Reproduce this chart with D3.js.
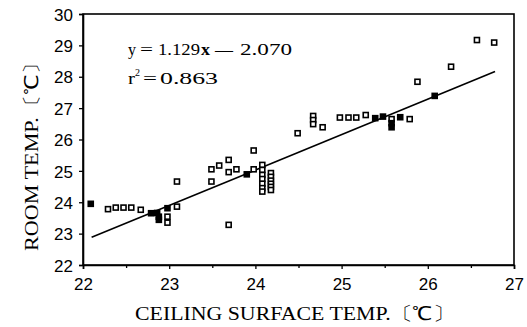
<!DOCTYPE html>
<html>
<head>
<meta charset="utf-8">
<script src="https://cdn.jsdelivr.net/npm/d3@7"></script>
<style>
  body { margin: 0; background: #fff; }
  svg { display: block; }
</style>
</head>
<body>
<svg id="chart"></svg>
<script>
// ceiling surface temp (x) vs room temp (y), open squares
const openX = [22.29, 22.38, 22.47, 22.56, 22.67, 22.98, 22.98, 23.09, 23.09,
  23.49, 23.49, 23.58, 23.69, 23.69, 23.78, 23.98, 23.98,
  24.08, 24.08, 24.08, 24.08, 24.08, 24.08, 24.08,
  24.18, 24.18, 24.18, 24.18, 24.18, 24.18, 23.69,
  24.49, 24.67, 24.67, 24.67, 24.78, 24.98, 25.08, 25.17, 25.28,
  25.58, 25.79, 25.88, 26.27, 26.57, 26.77];
const openY = [23.78, 23.83, 23.83, 23.83, 23.76, 23.54, 23.35, 23.86, 24.66,
  24.66, 25.05, 25.17, 25.35, 24.96, 25.05, 25.65, 25.05,
  25.19, 25.03, 24.87, 24.74, 24.59, 24.45, 24.34,
  24.93, 24.81, 24.69, 24.59, 24.49, 24.39, 23.28,
  26.20, 26.75, 26.62, 26.49, 26.39, 26.70, 26.70, 26.70, 26.78,
  26.65, 26.65, 27.84, 28.32, 29.17, 29.09];

// overlapping points that print as solid squares
const filledX = [22.09, 22.79, 22.86, 22.88, 22.88, 22.98, 23.90, 25.39, 25.48, 25.58, 25.58, 25.68, 26.08];
const filledY = [23.95, 23.65, 23.66, 23.54, 23.44, 23.81, 24.89, 26.68, 26.73, 26.52, 26.39, 26.71, 27.39];

// regression
const slope = 1.129;
const intercept = -2.070;
const fitRange = [22.1, 26.78];

const xTicks = [22, 23, 24, 25, 26, 27];
const xMinorTicks = [22.5, 23.5, 24.5, 25.5, 26.5];
const yTicks = [22, 23, 24, 25, 26, 27, 28, 29, 30];

const width = 527;
const height = 327;
const margin = { top: 14, right: 13, bottom: 62, left: 83 };

const svg = d3.select('#chart')
  .attr('width', width)
  .attr('height', height);

const x = d3.scaleLinear()
  .domain([22, 27])
  .range([margin.left, width - margin.right]);

const y = d3.scaleLinear()
  .domain([22, 30])
  .range([height - margin.bottom, margin.top]);

// frame
svg.append('rect')
  .attr('x', x(22))
  .attr('y', y(30))
  .attr('width', x(27) - x(22))
  .attr('height', y(22) - y(30))
  .attr('fill', 'none')
  .attr('stroke', '#000')
  .attr('stroke-width', 1.6);

// x axis
const xAxis = svg.append('g')
  .attr('transform', `translate(0, ${y(22)})`)
  .call(d3.axisBottom(x).tickValues(xTicks).tickFormat(d3.format('d')).tickSize(4).tickPadding(9));
svg.append('g')
  .attr('transform', `translate(0, ${y(22)})`)
  .call(d3.axisBottom(x).tickValues(xMinorTicks).tickFormat('').tickSize(3))
  .select('.domain').remove();

// y axis
const yAxis = svg.append('g')
  .attr('transform', `translate(${x(22)}, 0)`)
  .call(d3.axisLeft(y).tickValues(yTicks).tickFormat(d3.format('d')).tickSize(4).tickPadding(6));

svg.selectAll('.tick line').attr('stroke', '#000').attr('stroke-width', 1.3);
svg.selectAll('.domain').attr('stroke', '#000').attr('stroke-width', 1.6);
svg.selectAll('.tick text')
  .style('font-family', '"Liberation Sans", Arial, sans-serif')
  .style('font-size', '17px')
  .attr('fill', '#000');
yAxis.selectAll('.tick text').attr('dy', '0.36em');

// fitted line
const line = d3.line()
  .x((d) => x(d))
  .y((d) => y(slope * d + intercept));

svg.append('path')
  .datum(fitRange)
  .attr('d', line)
  .attr('fill', 'none')
  .attr('stroke', '#000')
  .attr('stroke-width', 1.6);

// points
const s = 5;
svg.append('g')
  .selectAll('rect')
  .data(d3.range(openX.length))
  .enter()
  .append('rect')
  .attr('x', (i) => x(openX[i]) - s / 2)
  .attr('y', (i) => y(openY[i]) - s / 2)
  .attr('width', s)
  .attr('height', s)
  .attr('fill', '#fff')
  .attr('stroke', '#000')
  .attr('stroke-width', 1.6);

svg.append('g')
  .selectAll('rect')
  .data(d3.range(filledX.length))
  .enter()
  .append('rect')
  .attr('x', (i) => x(filledX[i]) - (s + 1.6) / 2)
  .attr('y', (i) => y(filledY[i]) - (s + 1.6) / 2)
  .attr('width', s + 1.6)
  .attr('height', s + 1.6)
  .attr('fill', '#000');

// equation
const serif = '"Liberation Serif", "Times New Roman", serif';
const eq = svg.append('g')
  .style('font-family', serif)
  .style('font-size', '17px')
  .attr('fill', '#000');

const eqParts = [
  { t: 'y', x0: 128, w: 8, yb: 55 },
  { t: '=', x0: 140, w: 13, yb: 55 },
  { t: '1.129', x0: 158, w: 42, yb: 55 },
  { t: 'x', x0: 201, w: 9, yb: 55, bold: true },
  { t: '\u2014', x0: 215, w: 18, yb: 55 },
  { t: '2.070', x0: 240, w: 52, yb: 55 },
  { t: 'r', x0: 128, w: 7, yb: 84 },
  { t: '=', x0: 143, w: 14, yb: 84 },
  { t: '0.863', x0: 160, w: 58, yb: 84 }
];
eqParts.forEach((p) => {
  eq.append('text')
    .attr('x', p.x0)
    .attr('y', p.yb)
    .attr('textLength', p.w)
    .attr('lengthAdjust', 'spacingAndGlyphs')
    .style('font-weight', p.bold ? 'bold' : 'normal')
    .text(p.t);
});
eq.append('text')
  .attr('x', 135)
  .attr('y', 76)
  .style('font-size', '10px')
  .text('2');

// axis titles
svg.append('text')
  .attr('x', 135)
  .attr('y', 320)
  .attr('textLength', 320)
  .attr('lengthAdjust', 'spacingAndGlyphs')
  .style('font-family', serif)
  .style('font-size', '19px')
  .attr('fill', '#000')
  .text('CEILING SURFACE TEMP.〔℃〕');

svg.append('text')
  .attr('transform', 'translate(38, 251) rotate(-90)')
  .attr('textLength', 199)
  .attr('lengthAdjust', 'spacingAndGlyphs')
  .style('font-family', serif)
  .style('font-size', '19px')
  .attr('fill', '#000')
  .text('ROOM TEMP.〔℃〕');
</script>
</body>
</html>
